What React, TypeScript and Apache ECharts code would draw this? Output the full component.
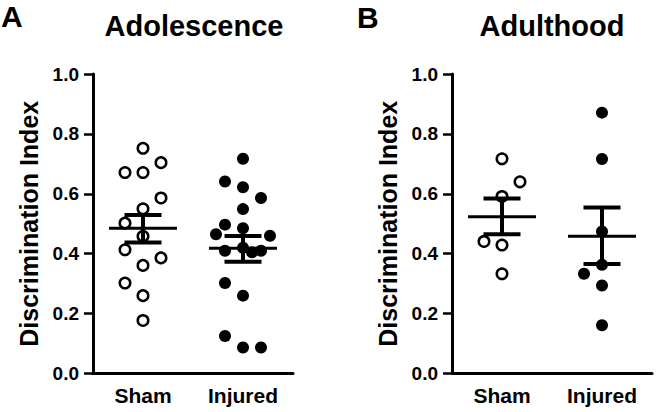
import React, { useEffect, useRef } from "react";
import * as echarts from "echarts";

// ---- data ----
const categories = ["Sham", "Injured"];
const yTicks = [0, 0.2, 0.4, 0.6, 0.8, 1.0];

// Panel A (Adolescence)
const adolShamValues = [0.752, 0.704, 0.671, 0.671, 0.586, 0.55, 0.502, 0.458, 0.413, 0.386, 0.361, 0.302, 0.26, 0.177];
const adolShamColumn = [0, 1, -1, 0, 1, 0, -1, 0, -1, 1, 0, -1, 0, 0];
const adolInjuredValues = [0.717, 0.641, 0.622, 0.586, 0.549, 0.497, 0.485, 0.465, 0.46, 0.41, 0.42, 0.405, 0.41, 0.302, 0.26, 0.125, 0.087, 0.087];
const adolInjuredColumn = [0, -1, 0, 1, 0, -1, 0, -1.5, 1.5, -1, 0, 0.5, 1, -1, 0, -1, 0, 1];
const adolMean = [0.485, 0.418];
const adolSemLow = [0.437, 0.373];
const adolSemHigh = [0.529, 0.459];

// Panel B (Adulthood)
const adultShamValues = [0.717, 0.64, 0.591, 0.441, 0.429, 0.333];
const adultShamColumn = [0, 1, 0, -1, 0, 0];
const adultInjuredValues = [0.871, 0.716, 0.474, 0.363, 0.333, 0.294, 0.161];
const adultInjuredColumn = [0, 0, 0, 0, -1, 0, 0];
const adultMean = [0.523, 0.458];
const adultSemLow = [0.465, 0.366];
const adultSemHigh = [0.584, 0.554];

const titles = ["Adolescence", "Adulthood"];
const panelLetters = ["A", "B"];
const yName = "Discrimination Index";

// ---- styling constants ----
const FONT = "'Liberation Sans', Arial, sans-serif";
const COL_STEP = 0.18;
const MEAN_HALF = 0.34;
const CAP_HALF = 0.185;

const App: React.FC = () => {
  const ref = useRef<HTMLDivElement>(null);

  useEffect(() => {
    if (!ref.current) return;
    const chart = echarts.init(ref.current, null, { renderer: "svg" });

    const gridLefts = [93, 452];
    const grids = gridLefts.map((left) => ({ left, top: 74, width: 200, height: 299.5 }));

    const xAxes: any[] = [];
    const yAxes: any[] = [];
    [0, 1].forEach((g) => {
      xAxes.push({
        type: "category",
        gridIndex: g,
        data: categories,
        boundaryGap: true,
        axisLine: { onZero: false, lineStyle: { color: "#000", width: 3 } },
        axisTick: { alignWithLabel: true, length: 9, lineStyle: { color: "#000", width: 2.5 } },
        axisLabel: { color: "#000", fontSize: 21, fontWeight: "bold", fontFamily: FONT, margin: 11 },
        splitLine: { show: false },
      });
      xAxes.push({ type: "value", gridIndex: g, min: -0.5, max: 1.5, show: false });
      yAxes.push({
        type: "value",
        gridIndex: g,
        min: 0,
        max: 1,
        interval: 0.2,
        name: yName,
        nameLocation: "middle",
        nameGap: 52,
        nameTextStyle: { color: "#000", fontSize: 25, fontWeight: "bold", fontFamily: FONT },
        axisLine: { show: true, onZero: false, lineStyle: { color: "#000", width: 3 } },
        axisTick: { show: true, length: 9, lineStyle: { color: "#000", width: 2.5 } },
        axisLabel: {
          color: "#000",
          fontSize: 19,
          fontWeight: "bold",
          fontFamily: FONT,
          margin: 14,
          formatter: (v: number) => (yTicks.some((t) => Math.abs(t - v) < 1e-6) ? v.toFixed(1) : ""),
        },
        splitLine: { show: false },
      });
    });

    const pts = (vals: number[], cols: number[], cat: number) =>
      vals.map((v, i) => [cat + cols[i] * COL_STEP, v]);

    const scatter = (data: number[][], g: number, open: boolean) => ({
      type: "scatter",
      xAxisIndex: g * 2 + 1,
      yAxisIndex: g,
      data,
      symbol: "circle",
      symbolSize: open ? 10.5 : 12,
      itemStyle: open
        ? { color: "#fff", borderColor: "#000", borderWidth: 2.5, opacity: 1 }
        : { color: "#000", borderColor: "#000", borderWidth: 0, opacity: 1 },
      z: 2,
    });

    const summary = (mean: number[], lo: number[], hi: number[], g: number) => ({
      type: "custom",
      xAxisIndex: g * 2 + 1,
      yAxisIndex: g,
      z: 5,
      data: mean.map((m, i) => [i, m, lo[i], hi[i]]),
      renderItem: (_p: any, api: any) => {
        const x = api.value(0);
        const m = api.value(1);
        const lo = api.value(2);
        const hi = api.value(3);
        const ml = api.coord([x - MEAN_HALF, m]);
        const mr = api.coord([x + MEAN_HALF, m]);
        const tl = api.coord([x - CAP_HALF, hi]);
        const tr = api.coord([x + CAP_HALF, hi]);
        const bl = api.coord([x - CAP_HALF, lo]);
        const br = api.coord([x + CAP_HALF, lo]);
        const vt = api.coord([x, hi]);
        const vb = api.coord([x, lo]);
        const st = (w: number) => ({ stroke: "#000", lineWidth: w });
        return {
          type: "group",
          children: [
            { type: "line", shape: { x1: ml[0], y1: ml[1], x2: mr[0], y2: mr[1] }, style: st(3) },
            { type: "line", shape: { x1: tl[0], y1: tl[1], x2: tr[0], y2: tr[1] }, style: st(4) },
            { type: "line", shape: { x1: bl[0], y1: bl[1], x2: br[0], y2: br[1] }, style: st(4) },
            { type: "line", shape: { x1: vt[0], y1: vt[1], x2: vb[0], y2: vb[1] }, style: st(4) },
          ],
        };
      },
    });

    const option: any = {
      animation: false,
      backgroundColor: "#fff",
      title: [
        { text: panelLetters[0], left: 1, top: 1, padding: 0, textStyle: { fontSize: 30, fontWeight: "bold", color: "#000", fontFamily: FONT } },
        { text: titles[0], left: 194, textAlign: "center", top: 11, padding: 0, textStyle: { fontSize: 29, fontWeight: "bold", color: "#000", fontFamily: FONT } },
        { text: panelLetters[1], left: 357, top: 2, padding: 0, textStyle: { fontSize: 30, fontWeight: "bold", color: "#000", fontFamily: FONT } },
        { text: titles[1], left: 552, textAlign: "center", top: 11, padding: 0, textStyle: { fontSize: 29, fontWeight: "bold", color: "#000", fontFamily: FONT } },
      ],
      grid: grids,
      xAxis: xAxes,
      yAxis: yAxes,
      series: [
        scatter(pts(adolShamValues, adolShamColumn, 0), 0, true),
        scatter(pts(adolInjuredValues, adolInjuredColumn, 1), 0, false),
        summary(adolMean, adolSemLow, adolSemHigh, 0),
        scatter(pts(adultShamValues, adultShamColumn, 0), 1, true),
        scatter(pts(adultInjuredValues, adultInjuredColumn, 1), 1, false),
        summary(adultMean, adultSemLow, adultSemHigh, 1),
      ],
    };
    chart.setOption(option);
    return () => chart.dispose();
  }, []);

  return <div ref={ref} style={{ width: 656, height: 412, position: "absolute", left: 0, top: 0 }} />;
};

export default App;
